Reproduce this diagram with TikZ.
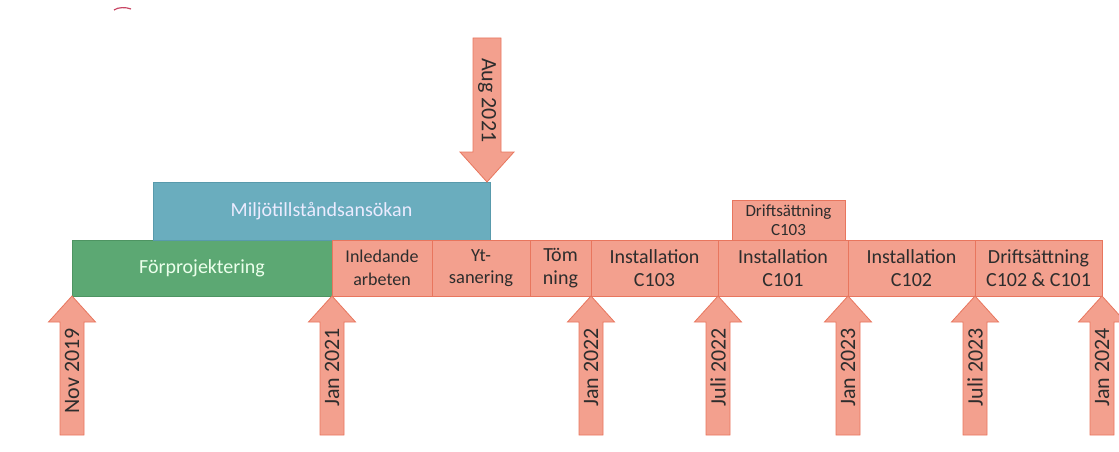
\documentclass[tikz,border=0pt]{standalone}
\usepackage{fontspec}
\setmainfont{Carlito}
\usetikzlibrary{positioning}

\definecolor{salmon}{RGB}{243,160,142}
\definecolor{salmonline}{RGB}{232,118,94}
\definecolor{phasegreen}{RGB}{92,168,115}
\definecolor{greenline}{RGB}{78,148,98}
\definecolor{phaseblue}{RGB}{106,173,190}
\definecolor{blueline}{RGB}{88,154,172}
\definecolor{textgray}{RGB}{45,45,45}
\definecolor{arcred}{RGB}{200,70,100}

\begin{document}
\begin{tikzpicture}[x=1pt,y=-1pt,
  phase/.style={draw=salmonline, fill=salmon, line width=1pt, text=textgray,
    inner sep=0pt, outer sep=0pt, minimum height=56pt, align=center,
    font=\fontsize{20}{22.5}\selectfont},
  datemark/.style={draw=salmonline, fill=salmon, line width=0.8pt},
  datetext/.style={text=textgray, inner sep=0pt, font=\fontsize{22}{24}\selectfont}]
\useasboundingbox (0,0) rectangle (1119,452);

% the two long phases
\node[phase, draw=greenline, fill=phasegreen, text=white!92!green, anchor=north west,
      minimum width=260pt] (forproj) at (72,240) {Förprojektering};
\node[phase, draw=blueline, fill=phaseblue, text=white!92!blue, anchor=south west,
      minimum width=337pt, minimum height=58pt] (miljo) at (153,240) {Miljötillståndsansökan};

% the row of work phases, one after the other
\node[phase, minimum width=100pt, right=0pt of forproj,
      font=\fontsize{18}{22.5}\selectfont] (inled) {Inledande\\arbeten};
\node[phase, minimum width=98pt, right=0pt of inled,
      font=\fontsize{18.5}{22.5}\selectfont] (ytsan) {Yt-\\sanering};
\node[phase, minimum width=61pt, right=0pt of ytsan] (tomning) {Töm\\ning};
\node[phase, minimum width=127pt, right=0pt of tomning] (instA) {Installation\\C103};
\node[phase, minimum width=130pt, right=0pt of instA] (instB) {Installation\\C101};
\node[phase, minimum width=127pt, right=0pt of instB] (instC) {Installation\\C102};
\node[phase, minimum width=127pt, right=0pt of instC] (drift) {Driftsättning\\C102 \& C101};
\node[phase, minimum width=113pt, minimum height=40pt, anchor=south west,
      font=\fontsize{17}{19}\selectfont] (driftC) at (732,240) {Driftsättning\\C103};

% date arrows below the row
\foreach \xx/\date in {72/Nov 2019, 332/Jan 2021, 591/Jan 2022, 718/Juli 2022,
                       848/Jan 2023, 975/Juli 2023, 1102/Jan 2024}
{
\draw[datemark] (\xx,296) -- ++(23.5,26) -- ++(-11.5,0) -- ++(0,113) -- ++(-24,0)
   -- ++(0,-113) -- ++(-11.5,0) -- cycle;
\node[datetext, rotate=90, anchor=east] (d\xx) at (\xx,328) {\date};
}

% date arrow from above
\draw[datemark] (487,182) -- ++(27,-30) -- ++(-13,0) -- ++(0,-114) -- ++(-28,0)
   -- ++(0,114) -- ++(-13,0) -- cycle;
\node[datetext, rotate=-90, anchor=west] (aug) at (487,58) {Aug 2021};

\draw[arcred, line width=1.2pt] (114,10) .. controls (118,7) and (126,7) .. (131,9);
\end{tikzpicture}
\end{document}
